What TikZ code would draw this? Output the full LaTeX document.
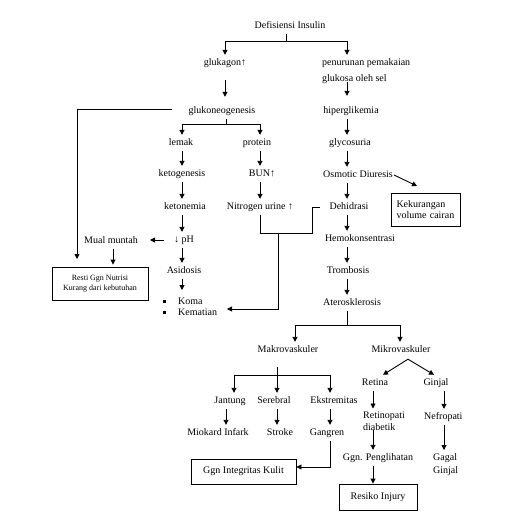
\documentclass[tikz,border=0pt]{standalone}
\usepackage{fontspec}
\setmainfont{Liberation Serif}
\usetikzlibrary{arrows.meta}
\begin{document}
\begin{tikzpicture}[x=1pt,y=-1pt,
  lbl/.style={inner xsep=1pt, inner ysep=3.5pt, font=\fontsize{10}{12}\selectfont, text height=7pt, text depth=2pt},
  multi/.style={inner xsep=1pt, inner ysep=0pt, align=left},
  arr/.style={-{Triangle[length=5pt,width=5pt]}, line width=0.9pt},
  ln/.style={line width=0.9pt},
  boxed/.style={draw, line width=0.9pt, inner sep=0pt}
]
\fill[white] (0,0) rectangle (512,513);
\useasboundingbox (0,0) rectangle (512,513);

% column coordinates
\coordinate (cR) at (347,0);
\coordinate (cL) at (182,0);
\coordinate (cP) at (260,0);
\coordinate (cM) at (113,0);
\coordinate (cJ) at (226,0);
\coordinate (cS) at (277,0);
\coordinate (cE) at (330,0);
\coordinate (cMa) at (295,0);
\coordinate (cMi) at (400,0);
\coordinate (cRt) at (373,0);
\coordinate (cG) at (444,0);
\coordinate (cGk) at (225,0);

% ---------- nodes ----------
\node[lbl] (def) at (290,26) {Defisiensi Insulin};
\node[lbl] (gluk) at (225,63) {glukagon↑};
\node[lbl, anchor=west] (pen1) at (321,63) {penurunan pemakaian};
\node[lbl, anchor=west] (pen2) at (321,79) {glukosa oleh sel};
\node[lbl] (hip) at (351,111) {hiperglikemia};
\node[lbl] (gly) at (350,143) {glycosuria};
\node[lbl] (osm) at (358,175) {Osmotic Diuresis};
\node[boxed, minimum width=69pt, minimum height=33pt, text width=58pt, align=left,
      font=\fontsize{10}{11}\selectfont] (kek) at (425.5,209.5) {Kekurangan\\volume cairan};
\node[lbl] (deh) at (349,207) {Dehidrasi};
\node[lbl] (hem) at (360,239) {Hemokonsentrasi};
\node[lbl] (tro) at (348,271) {Trombosis};
\node[lbl] (ate) at (352,303) {Aterosklerosis};
\node[lbl] (makro) at (288,350) {Makrovaskuler};
\node[lbl] (mikro) at (401,350) {Mikrovaskuler};
\node[lbl] (jan) at (230,401) {Jantung};
\node[lbl] (ser) at (274,401) {Serebral};
\node[lbl] (eks) at (334,401) {Ekstremitas};
\node[lbl] (mio) at (218,433) {Miokard Infark};
\node[lbl] (str) at (280,433) {Stroke};
\node[lbl] (gan) at (327,433) {Gangren};
\node[boxed, minimum width=105pt, minimum height=25pt, font=\fontsize{10}{12}\selectfont] (ggn) at (243.5,471.5) {Ggn Integritas Kulit};
\node[lbl] (ret) at (375,383) {Retina};
\node[lbl] (gin) at (436,383) {Ginjal};
\node[multi, anchor=north west, font=\fontsize{10}{12}\selectfont] (retd) at (362,411.5) {Retinopati\\diabetik};
\node[lbl, anchor=west] (nef) at (423,417) {Nefropati};
\node[multi, anchor=north west, font=\fontsize{10}{13}\selectfont] (gag) at (432,453) {Gagal\\Ginjal};
\node[lbl] (pen) at (378,458) {Ggn. Penglihatan};
\node[boxed, minimum width=78pt, minimum height=26pt, font=\fontsize{10}{12}\selectfont] (res) at (378,497) {Resiko Injury};

\node[lbl] (glk) at (222,111) {glukoneogenesis};
\node[lbl] (lem) at (181,143) {lemak};
\node[lbl] (pro) at (257,143) {protein};
\node[lbl] (ket) at (182,174) {ketogenesis};
\node[lbl] (bun) at (262,174) {BUN↑};
\node[lbl] (ktn) at (185,207) {ketonemia};
\node[lbl] (nit) at (260,207) {Nitrogen urine ↑};
\node[lbl] (ph) at (184,240) {↓ pH};
\node[lbl] (mual) at (111,241) {Mual muntah};
\node[boxed, minimum width=96pt, minimum height=33pt, align=center,
      font=\fontsize{8}{10}\selectfont] (resti) at (100,283.5) {Resti Ggn Nutrisi\\Kurang dari kebutuhan};
\node[lbl] (asi) at (184,271) {Asidosis};
\node[multi, anchor=north west, font=\fontsize{10}{11}\selectfont] (koma) at (162,298)
  {\rule[1.5pt]{3pt}{3pt}\hspace{12pt}Koma\\\rule[1.5pt]{3pt}{3pt}\hspace{12pt}Kematian};

% ---------- helper coordinates ----------
\coordinate (split1) at (286,41);
\coordinate (split2) at (226,124);
\coordinate (split3) at (347,325);
\coordinate (split4) at (277,375);
\coordinate (j1) at (312,233);
\coordinate (j2) at (278,233);
\coordinate (kin) at (227,309);
\coordinate (lt) at (77,259);
\coordinate (kekin) at (417,186);
\coordinate (mtop) at ([xshift=7pt,yshift=-1pt]mikro.south);

% ---------- connectors ----------
\draw[ln] (def.south -| split1) -- (split1);
\draw[arr] (split1) -| (gluk.north);
\draw[arr] (split1) -| (pen1.north -| cR);
\draw[arr] ([yshift=-9pt]gluk.south -| cGk) -- ([yshift=6pt]glk.north -| cGk);
\draw[arr] ([yshift=5pt]pen2.south -| cR) -- ([yshift=7pt]hip.north -| cR);
\draw[arr] (hip.south -| cR) -- (gly.north -| cR);
\draw[arr] (gly.south -| cR) -- (osm.north -| cR);
\draw[arr] (osm.east) -- (kekin);
\draw[arr] (osm.south -| cR) -- (deh.north -| cR);
\draw[arr] (deh.south -| cR) -- (hem.north -| cR);
\draw[arr] (hem.south -| cR) -- (tro.north -| cR);
\draw[arr] (tro.south -| cR) -- (ate.north -| cR);
\draw[ln] (ate.south -| split3) -- (split3);
\draw[arr] (split3) -| (makro.north -| cMa);
\draw[arr] (split3) -| (mikro.north -| cMi);

\draw[ln] ([yshift=-9pt]makro.south -| split4) -- (split4);
\draw[arr] (split4) -| ([xshift=4pt]jan.north);
\draw[arr] (split4) -- (ser.north -| split4);
\draw[arr] (split4) -| (eks.north -| cE);
\draw[arr] (jan.south -| cJ) -- (mio.north -| cJ);
\draw[arr] (ser.south -| cS) -- (str.north -| cS);
\draw[arr] (eks.south -| cE) -- (gan.north -| cE);
\draw[arr] (gan.south -| cE) |- ([yshift=4.5pt]ggn.east);

\draw[arr] (mtop) -- ([xshift=8pt]ret.north);
\draw[arr] (mtop) -- ([xshift=-2pt]gin.north);
\draw[arr] (ret.south -| cRt) -- ([yshift=3pt]retd.north -| cRt);
\draw[arr] (gin.south -| cG) -- (nef.north -| cG);
\draw[arr] (nef.south -| cG) -- ([yshift=3pt]gag.north -| cG);
\draw[arr] ([yshift=1pt]retd.south -| cRt) -- (pen.north -| cRt);
\draw[arr] (pen.south -| cRt) -- (res.north -| cRt);

\draw[ln] (glk.south -| split2) -- (split2);
\draw[arr] (split2) -| (lem.north -| cL);
\draw[arr] (split2) -| (pro.north -| cP);
\draw[arr] (lem.south -| cL) -- (ket.north -| cL);
\draw[arr] (ket.south -| cL) -- (ktn.north -| cL);
\draw[arr] (ktn.south -| cL) -- (ph.north -| cL);
\draw[arr] (ph.south -| cL) -- (asi.north -| cL);
\draw[arr] (asi.south -| cL) -- ([yshift=8pt]koma.north -| cL);
\draw[arr] (pro.south -| cP) -- (bun.north -| cP);
\draw[arr] (bun.south -| cP) -- (nit.north -| cP);
\draw[ln] (nit.south -| cP) |- (j1) |- ([xshift=-8pt]deh.west);
\draw[arr] (j2) |- (kin);
\draw[arr] ([xshift=-9pt]ph.west) -- ([xshift=11pt]ph.west -| mual.east);
\draw[arr] (mual.south -| cM) -- ([yshift=2pt]resti.north -| cM);
\draw[arr] ([xshift=-15pt,yshift=2pt]glk.west) -| (lt);
\end{tikzpicture}
\end{document}
